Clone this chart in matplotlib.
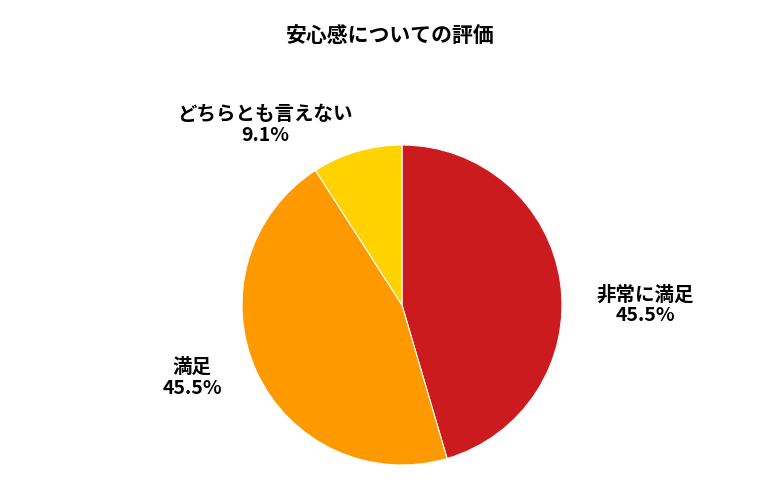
import matplotlib
matplotlib.use("Agg")
import matplotlib.pyplot as plt

plt.rcParams['font.family'] = ['Noto Sans CJK JP', 'DejaVu Sans']

categories = ["非常に満足", "満足", "どちらとも言えない"]
values = [45.5, 45.5, 9.1]
colors = ["#CC1B1F", "#FF9900", "#FFD200"]

fig = plt.figure(figsize=(7.8, 5), dpi=100)
ax = fig.add_axes([(402-160)/780, (500-465)/500, 320/780, 320/500])
ax.pie(values, colors=colors, startangle=90, counterclock=False, radius=1,
       wedgeprops=dict(edgecolor="white", linewidth=0.8))
ax.set_xlim(-1, 1)
ax.set_ylim(-1, 1)
ax.set_aspect('equal')

label_pos = [(645, 305), (192, 378), (265, 125)]
for (x, y), c, v in zip(label_pos, categories, values):
    fig.text(x/780, 1-y/500, f"{c}\n{v:.1f}%", ha='center', va='center',
             fontsize=14, fontweight='bold', linespacing=1.1)

fig.text(390/780, 1-36/500, "安心感についての評価", ha='center', va='center',
         fontsize=15, fontweight='bold')

fig.savefig("out.png", dpi=100)
